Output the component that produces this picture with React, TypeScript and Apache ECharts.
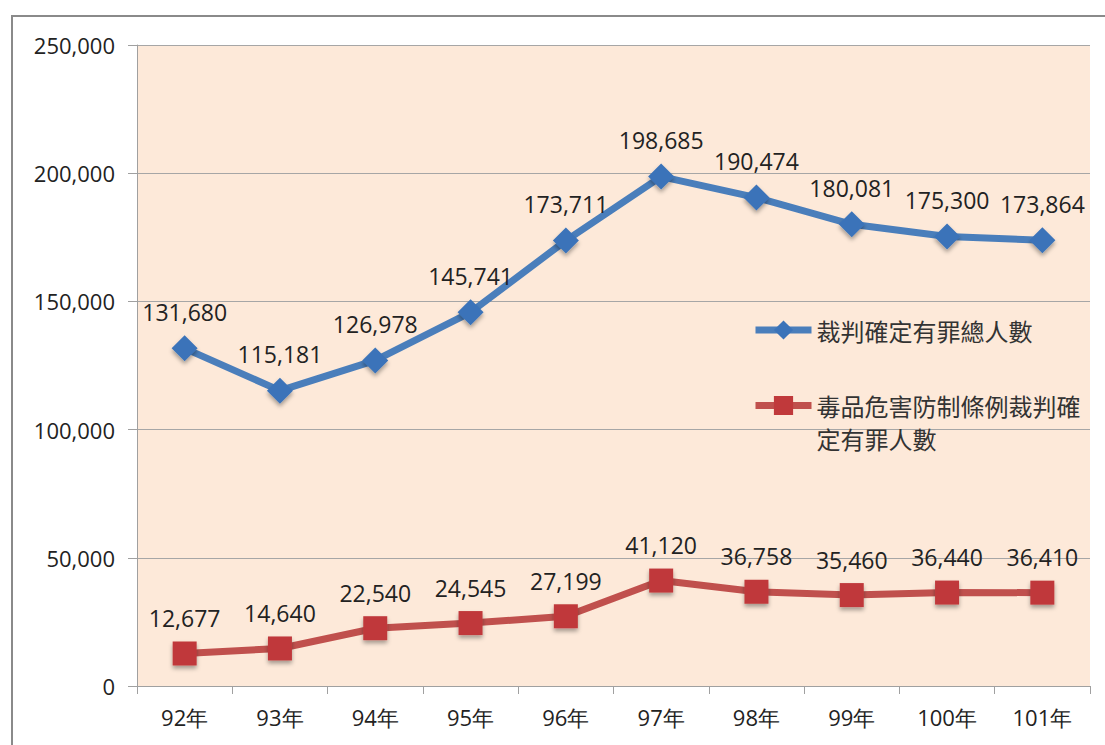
import React, { useEffect, useRef } from "react";
import * as echarts from "echarts";

const categories = ["92年", "93年", "94年", "95年", "96年", "97年", "98年", "99年", "100年", "101年"];
const totalName = "裁判確定有罪總人數";
const drugName = "毒品危害防制條例裁判確定有罪人數";
const totalValues = [131680, 115181, 126978, 145741, 173711, 198685, 190474, 180081, 175300, 173864];
const drugValues = [12677, 14640, 22540, 24545, 27199, 41120, 36758, 35460, 36440, 36410];
const yMin = 0;
const yMax = 250000;
const yInterval = 50000;

const fmt = (v: number) => Math.round(v).toLocaleString("en-US");
const numFont = "'Open Sans', 'Liberation Sans', sans-serif";
const cjkFont = "'Noto Sans CJK TC', 'Noto Sans CJK SC', sans-serif";

export default function App() {
  const ref = useRef<HTMLDivElement>(null);
  useEffect(() => {
    if (!ref.current) return;
    const chart = echarts.init(ref.current, undefined, { renderer: "svg" });
    chart.setOption({
      animation: false,
      backgroundColor: "#ffffff",
      graphic: [
        {
          type: "rect",
          shape: { x: 12, y: 16, width: 1200, height: 800 },
          style: { fill: "none", stroke: "#8a8a8a", lineWidth: 2 },
          z: 0,
        },
      ],
      grid: {
        left: 137,
        right: 15,
        top: 45,
        bottom: 59,
        show: true,
        backgroundColor: "#FDE9D9",
        borderWidth: 0,
      },
      legend: [
        {
          data: [totalName],
          orient: "vertical",
          left: 752,
          top: 314,
          padding: 0,
          itemWidth: 56,
          itemHeight: 24,
          itemGap: 0,
          lineStyle: { width: 7 },
          textStyle: { fontFamily: cjkFont, fontSize: 24, color: "#333", lineHeight: 32 },
        },
        {
          data: [drugName],
          orient: "vertical",
          left: 752,
          top: 356,
          padding: 0,
          itemWidth: 56,
          itemHeight: 24,
          itemGap: 0,
          lineStyle: { width: 7 },
          formatter: () => " \n毒品危害防制條例裁判確\n定有罪人數",
          textStyle: { fontFamily: cjkFont, fontSize: 24, color: "#333", lineHeight: 33 },
        },
      ],
      xAxis: {
        type: "category",
        data: categories,
        boundaryGap: true,
        axisLine: { lineStyle: { color: "#a0a0a0", width: 1 } },
        axisTick: { show: true, length: 8, lineStyle: { color: "#a0a0a0" } },
        axisLabel: { fontFamily: numFont, fontSize: 22, color: "#222", margin: 20 },
        splitLine: { show: false },
      },
      yAxis: {
        type: "value",
        min: yMin,
        max: yMax,
        interval: yInterval,
        axisLine: { show: true, lineStyle: { color: "#a0a0a0", width: 1 } },
        axisTick: { show: true, length: 9, lineStyle: { color: "#a0a0a0" } },
        axisLabel: { fontFamily: numFont, fontSize: 22, color: "#222", margin: 22, formatter: (v: number) => fmt(v) },
        splitLine: { show: true, lineStyle: { color: "#a6a6a6", width: 1 } },
      },
      series: [
        {
          name: totalName,
          type: "line",
          data: totalValues,
          symbol: "diamond",
          symbolSize: 26,
          lineStyle: { color: "#4A7EBB", width: 7 },
          itemStyle: {
            color: "#3B73B9",
            shadowBlur: 4,
            shadowColor: "rgba(0,0,0,0.35)",
            shadowOffsetY: 3,
          },
          label: {
            show: true,
            position: "top",
            distance: 12,
            fontFamily: numFont,
            fontSize: 23,
            color: "#222",
            formatter: (p: any) => fmt(p.value),
          },
          z: 3,
        },
        {
          name: drugName,
          type: "line",
          data: drugValues,
          symbol: "rect",
          symbolSize: 24,
          lineStyle: { color: "#C0504D", width: 7 },
          itemStyle: {
            color: "#C0393B",
            shadowBlur: 4,
            shadowColor: "rgba(0,0,0,0.35)",
            shadowOffsetY: 3,
          },
          label: {
            show: true,
            position: "top",
            distance: 12,
            fontFamily: numFont,
            fontSize: 23,
            color: "#222",
            formatter: (p: any) => fmt(p.value),
          },
          z: 3,
        },
      ],
    });
    return () => chart.dispose();
  }, []);
  return (
    <div
      ref={ref}
      style={{ position: "absolute", left: 0, top: 0, width: 1105, height: 745 }}
    />
  );
}
